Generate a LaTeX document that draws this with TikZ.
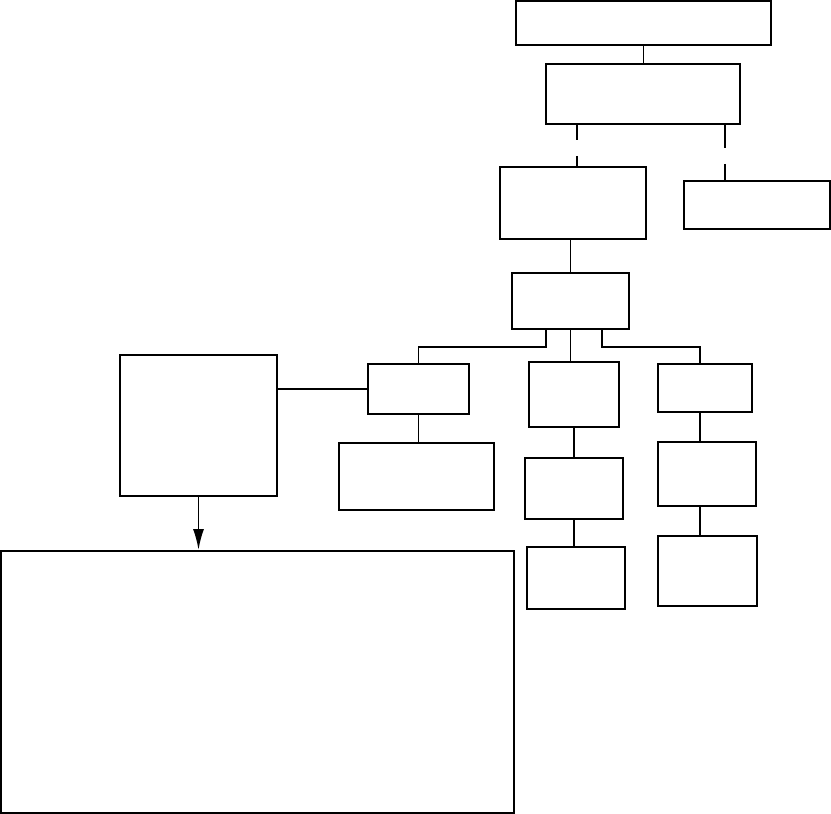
\documentclass[tikz,border=0pt]{standalone}
\usepackage{amsmath}
\usetikzlibrary{arrows.meta}

\begin{document}
\begin{tikzpicture}[x=0.03cm, y=-0.03cm, line width=1.6pt,
  box/.style={draw, rectangle, inner sep=0pt},
  gapline/.style={dash pattern=on #1 off 0.48cm}]
  \useasboundingbox (0,0) rectangle (831,814);
  % top of the tree
  \node[box, minimum width=7.65cm, minimum height=1.32cm] (top)  at (643.5,23) {};
  \node[box, minimum width=5.82cm, minimum height=1.8cm]  (lead) at (643,94) {};
  \node[box, minimum width=4.38cm, minimum height=2.16cm] (mid)  at (573,203) {};
  \node[box, minimum width=4.38cm, minimum height=1.44cm] (side) at (757,205) {};
  \node[box, minimum width=3.51cm, minimum height=1.68cm] (hub)  at (570.5,301) {};
  % three branches
  \node[box, minimum width=3.03cm, minimum height=1.5cm]  (bl1) at (418.5,389) {};
  \node[box, minimum width=4.65cm, minimum height=2.01cm] (bl2) at (416.5,476.5) {};
  \node[box, minimum width=2.7cm,  minimum height=1.95cm] (bm1) at (574,394.5) {};
  \node[box, minimum width=2.94cm, minimum height=1.83cm] (bm2) at (574,488.5) {};
  \node[box, minimum width=2.94cm, minimum height=1.86cm] (bm3) at (576,578) {};
  \node[box, minimum width=2.82cm, minimum height=1.44cm] (br1) at (705,388) {};
  \node[box, minimum width=2.94cm, minimum height=1.92cm] (br2) at (707,474) {};
  \node[box, line width=0.9pt, minimum width=2.97cm, minimum height=2.1cm] (br3) at (707.5,571) {};
  % left part
  \node[box, minimum width=4.71cm, minimum height=4.23cm] (src) at (198.5,425.5) {};
  \node[box, minimum width=15.39cm, minimum height=7.86cm] (big) at (257.5,682) {};

  % connectors
  \draw (top.south) -- (top.south |- lead.north);
  \draw[gapline=0.45cm] ([xshift=0.12cm]mid.north |- lead.south) -- ([xshift=0.12cm]mid.north);
  \draw[gapline=0.69cm] ([xshift=-0.96cm]side.north |- lead.south) -- ([xshift=-0.96cm]side.north);
  \draw (hub.north |- mid.south) -- (hub.north);
  \draw ([xshift=-0.74cm]hub.south) -- ++(0,17) -| (bl1.north);
  \draw (hub.south) -- (hub.south |- bm1.north);
  \draw ([xshift=0.945cm]hub.south) -- ++(0,17) -| ([xshift=-0.15cm]br1.north);
  \draw (bl1.south) -- (bl1.south |- bl2.north);
  \draw (bm1.south) -- (bm1.south |- bm2.north);
  \draw (bm2.south) -- (bm2.south |- bm3.north);
  \draw ([xshift=-0.21cm]br2.north |- br1.south) -- ([xshift=-0.21cm]br2.north);
  \draw ([xshift=-0.21cm]br2.south) -- ([xshift=-0.21cm]br2.south |- br3.north);
  \draw (bl1.west) -- (bl1.west -| src.east);
  \draw[-{Latex[length=0.63cm, width=0.33cm]}] (src.south) -- (src.south |- big.north);
\end{tikzpicture}
\end{document}
